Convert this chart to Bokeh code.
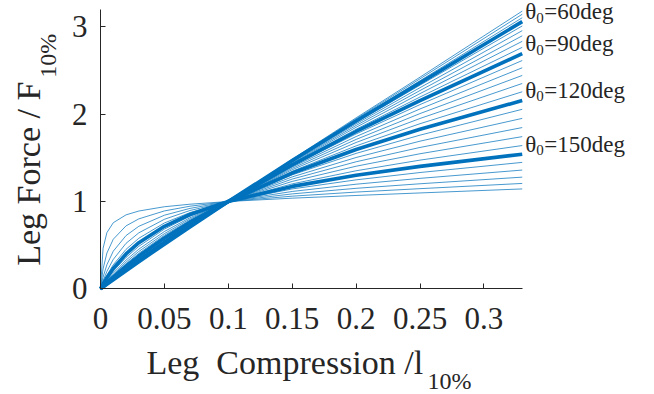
import math
from bokeh.plotting import figure
from bokeh.models import Range1d, FixedTicker, Label
from bokeh.embed import file_html
from bokeh.resources import INLINE

# ---- data ----
compression = [0, 0.002, 0.005, 0.01, 0.02, 0.03, 0.05, 0.07, 0.1, 0.15, 0.2, 0.25, 0.33]

f45 = [0.000, 0.020, 0.051, 0.102, 0.204, 0.305, 0.506, 0.705, 1.000, 1.484, 1.958, 2.424, 3.181]
f50 = [0.000, 0.021, 0.051, 0.103, 0.205, 0.306, 0.507, 0.706, 1.000, 1.479, 1.947, 2.405, 3.145]
f55 = [0.000, 0.021, 0.052, 0.103, 0.206, 0.308, 0.509, 0.708, 1.000, 1.475, 1.935, 2.383, 3.105]
f60 = [0.000, 0.021, 0.052, 0.104, 0.207, 0.310, 0.511, 0.709, 1.000, 1.469, 1.922, 2.359, 3.060]
f65 = [0.000, 0.021, 0.053, 0.105, 0.209, 0.312, 0.514, 0.711, 1.000, 1.463, 1.906, 2.333, 3.011]
f70 = [0.000, 0.021, 0.053, 0.106, 0.211, 0.314, 0.516, 0.713, 1.000, 1.456, 1.890, 2.304, 2.957]
f75 = [0.000, 0.022, 0.054, 0.107, 0.213, 0.317, 0.520, 0.716, 1.000, 1.449, 1.871, 2.271, 2.898]
f80 = [0.000, 0.022, 0.055, 0.109, 0.215, 0.320, 0.523, 0.719, 1.000, 1.440, 1.850, 2.236, 2.835]
f85 = [0.000, 0.022, 0.056, 0.111, 0.218, 0.324, 0.527, 0.722, 1.000, 1.430, 1.827, 2.197, 2.766]
f90 = [0.000, 0.023, 0.057, 0.112, 0.222, 0.328, 0.532, 0.726, 1.000, 1.420, 1.802, 2.155, 2.693]
f95 = [0.000, 0.023, 0.058, 0.115, 0.226, 0.333, 0.537, 0.730, 1.000, 1.408, 1.774, 2.110, 2.615]
f100 = [0.000, 0.024, 0.059, 0.117, 0.230, 0.339, 0.544, 0.735, 1.000, 1.395, 1.744, 2.060, 2.532]
f105 = [0.000, 0.025, 0.061, 0.121, 0.236, 0.346, 0.551, 0.741, 1.000, 1.380, 1.711, 2.007, 2.444]
f110 = [0.000, 0.026, 0.063, 0.125, 0.242, 0.354, 0.560, 0.747, 1.000, 1.364, 1.676, 1.951, 2.352]
f115 = [0.000, 0.027, 0.066, 0.129, 0.250, 0.363, 0.570, 0.755, 1.000, 1.346, 1.637, 1.891, 2.257]
f120 = [0.000, 0.028, 0.069, 0.135, 0.260, 0.375, 0.582, 0.763, 1.000, 1.326, 1.595, 1.827, 2.157]
f125 = [0.000, 0.030, 0.073, 0.143, 0.272, 0.389, 0.596, 0.774, 1.000, 1.305, 1.551, 1.760, 2.056]
f130 = [0.000, 0.032, 0.079, 0.152, 0.287, 0.406, 0.613, 0.785, 1.000, 1.282, 1.504, 1.691, 1.952]
f135 = [0.000, 0.035, 0.086, 0.164, 0.305, 0.428, 0.632, 0.799, 1.000, 1.257, 1.455, 1.619, 1.847]
f140 = [0.000, 0.039, 0.095, 0.180, 0.329, 0.454, 0.656, 0.814, 1.000, 1.230, 1.404, 1.547, 1.743]
f145 = [0.000, 0.045, 0.108, 0.202, 0.359, 0.487, 0.684, 0.832, 1.000, 1.202, 1.352, 1.474, 1.641]
f150 = [0.000, 0.054, 0.127, 0.232, 0.399, 0.528, 0.716, 0.851, 1.000, 1.173, 1.300, 1.402, 1.542]
f155 = [0.000, 0.067, 0.155, 0.275, 0.452, 0.579, 0.754, 0.873, 1.000, 1.144, 1.248, 1.332, 1.448]
f160 = [0.000, 0.090, 0.199, 0.337, 0.521, 0.641, 0.796, 0.897, 1.000, 1.115, 1.198, 1.265, 1.360]
f165 = [0.000, 0.133, 0.275, 0.431, 0.610, 0.716, 0.843, 0.921, 1.000, 1.087, 1.151, 1.203, 1.279]
f170 = [0.000, 0.227, 0.409, 0.568, 0.721, 0.801, 0.892, 0.946, 1.000, 1.061, 1.108, 1.147, 1.207]
f175 = [0.000, 0.462, 0.643, 0.757, 0.847, 0.891, 0.940, 0.969, 1.000, 1.038, 1.069, 1.098, 1.144]

thin_curves = [f45, f50, f55, f65, f70, f75, f80, f85, f95, f100, f105, f110, f115,
               f125, f130, f135, f140, f145, f155, f160, f165, f170, f175]
thick_curves = [f60, f90, f120, f150]
thick_labels = ["60deg", "90deg", "120deg", "150deg"]

x_ticks = [0, 0.05, 0.1, 0.15, 0.2, 0.25, 0.3]
x_tick_labels = ["0", "0.05", "0.1", "0.15", "0.2", "0.25", "0.3"]
y_ticks = [0, 1, 2, 3]
y_tick_labels = ["0", "1", "2", "3"]
x_axis_extent = (0, 0.33)
y_axis_extent = (0, 3.2)

# ---- styling ----
BLUE = "#0072BD"
AX = "#262626"
FONT = "Liberation Serif"
W, H = 654, 394
X0_PX, Y0_PX = 100.0, 288.3      # page position of the data origin
PX_X, PX_Y = 1278.0, 87.3        # pixels per data unit

p = figure(width=W, height=H, output_backend="svg", toolbar_location=None,
           x_range=Range1d(-X0_PX / PX_X, (W - X0_PX) / PX_X),
           y_range=Range1d(-(H - Y0_PX) / PX_Y, Y0_PX / PX_Y),
           min_border=0, min_border_left=0, min_border_right=0,
           min_border_top=0, min_border_bottom=0)
p.outline_line_color = None
p.grid.visible = False
p.background_fill_color = "white"
p.border_fill_color = "white"

for ys in thin_curves:
    p.line(compression, ys, line_color=BLUE, line_width=1.0, line_alpha=0.72)
for ys in thick_curves:
    p.line(compression, ys, line_color=BLUE, line_width=3.6, line_join="round")

for ax, ticks, labels, ext in ((p.xaxis[0], x_ticks, x_tick_labels, x_axis_extent),
                               (p.yaxis[0], y_ticks, y_tick_labels, y_axis_extent)):
    ax.fixed_location = 0
    ax.bounds = ext
    ax.ticker = FixedTicker(ticks=ticks)
    ax.major_label_overrides = {t: l for t, l in zip(ticks, labels)}
    ax.minor_tick_line_color = None
    ax.major_tick_in = 5
    ax.major_tick_out = 0
    ax.axis_line_color = AX
    ax.major_tick_line_color = AX
    ax.major_label_text_color = AX
    ax.major_label_text_font = FONT
    ax.major_label_text_font_size = "31px"
    ax.axis_line_width = 1

p.xaxis[0].major_label_standoff = 19
p.yaxis[0].major_label_standoff = 13

# curve labels
for ys, lab in zip(thick_curves, thick_labels):
    xe, ye = compression[-1], ys[-1]
    p.add_layout(Label(x=xe, y=ye, text="\u03b8", x_offset=3, y_offset=10,
                       text_font=FONT, text_font_size="23px", text_color=AX,
                       text_baseline="alphabetic", text_align="left"))
    p.add_layout(Label(x=xe, y=ye, text="0", x_offset=14, y_offset=4,
                       text_font=FONT, text_font_size="15px", text_color=AX,
                       text_baseline="alphabetic", text_align="left"))
    p.add_layout(Label(x=xe, y=ye, text="=" + lab, x_offset=22, y_offset=10,
                       text_font=FONT, text_font_size="23px", text_color=AX,
                       text_baseline="alphabetic", text_align="left"))

# axis titles (with subscripts)
LBL = "34px"
SUB = "24px"
p.add_layout(Label(x=0, y=0, text="Leg\u00a0 Compression /l", x_offset=46, y_offset=-74,
                   text_font=FONT, text_font_size=LBL, text_color=AX,
                   text_baseline="alphabetic", text_align="left"))
p.add_layout(Label(x=0, y=0, text="10%", x_offset=327, y_offset=-92,
                   text_font=FONT, text_font_size=SUB, text_color=AX,
                   text_baseline="alphabetic", text_align="left"))
p.add_layout(Label(x=0, y=0, text="Leg Force / F", x_offset=-72, y_offset=23,
                   angle=math.pi / 2, text_font=FONT, text_font_size=LBL, text_color=AX,
                   text_baseline="alphabetic", text_align="left"))
p.add_layout(Label(x=0, y=0, text="10%", x_offset=-53, y_offset=211,
                   angle=math.pi / 2, text_font=FONT, text_font_size=SUB, text_color=AX,
                   text_baseline="alphabetic", text_align="left"))

open("out.html", "w").write(file_html(p, INLINE))
